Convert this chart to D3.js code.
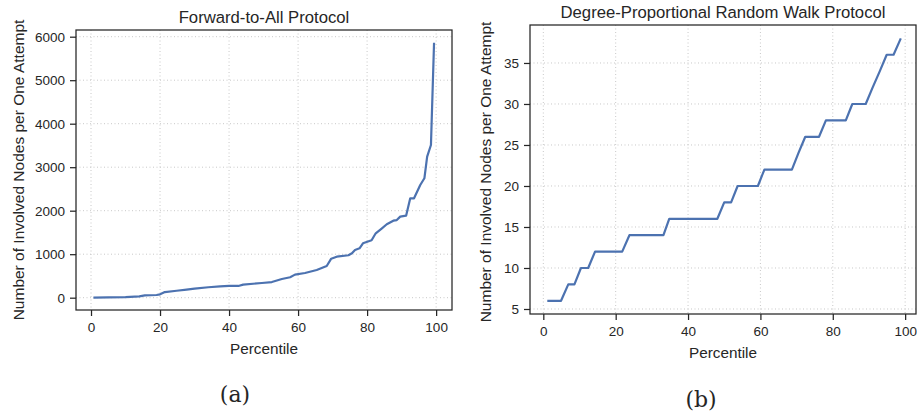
<!DOCTYPE html>
<html>
<head>
<meta charset="utf-8">
<script src="https://cdn.jsdelivr.net/npm/d3@7"></script>
<style>
body { margin: 0; background: #fff; }
svg text { font-family: "Liberation Sans", Arial, sans-serif; fill: #262626; }
</style>
</head>
<body>
<svg id="chart" width="917" height="413"></svg>
<script>
// panel (a): forward-to-all
var fwdPct = [0.7, 5, 10, 14, 15.6, 19, 20, 21.4, 24.8, 27.7, 30, 34, 37.4, 40, 42.7, 44.1, 49.5, 52.4,
	55.3, 57.7, 59.1, 62, 65.4, 68.3, 69.6, 71.2, 74.6, 75.6, 76.5, 77.8, 78.8, 81.3, 82.5, 84.3,
	85.7, 87.6, 88.6, 89.6, 91.3, 92.5, 93.6, 95.4, 96.6, 97.4, 98.5, 99.4];
var fwdVal = [0, 8, 15, 30, 55, 62, 78, 130, 160, 185, 207, 240, 262, 270, 270, 300, 338, 360,
	430, 470, 530, 568, 637, 729, 897, 943, 975, 1020, 1097, 1135, 1250, 1320, 1480, 1595,
	1688, 1770, 1785, 1863, 1885, 2285, 2285, 2590, 2745, 3241, 3510, 5860];

// panel (b): degree-proportional random walk (step vertices)
var rwPct = [1.1, 4.9, 6.9, 8.6, 10.4, 12.4, 14.3, 21.8, 23.8, 33.2, 34.8, 48.1, 50, 51.9, 53.7,
	59.3, 61.1, 68.7, 70.5, 72.4, 76.2, 78.1, 83.6, 85.4, 89.1, 91, 93, 94.9, 96.8, 98.8];
var rwVal = [6, 6, 8, 8, 10, 10, 12, 12, 14, 14, 16, 16, 18, 18, 20,
	20, 22, 22, 24, 26, 26, 28, 28, 30, 30, 32, 34, 36, 36, 38];

var xTicks = [0, 20, 40, 60, 80, 100];
var fwdTicks = [0, 1000, 2000, 3000, 4000, 5000, 6000];
var rwTicks = [5, 10, 15, 20, 25, 30, 35];

var svg = d3.select("#chart");
var lineColor = "#4c72b0", ink = "#262626";

function panel(opt){
	var g = svg.append("g");
	var x = d3.scaleLinear().domain(opt.xd).range([opt.x0, opt.x1]);
	var y = d3.scaleLinear().domain(opt.yd).range([opt.y1, opt.y0]);

	// grid
	g.selectAll(".gx").data(xTicks).enter().append("line")
		.attr("x1", d => x(d)).attr("x2", d => x(d))
		.attr("y1", opt.y0).attr("y2", opt.y1)
		.attr("stroke", "#c8c8c8").attr("stroke-width", 1).attr("stroke-dasharray", "1,2.5");
	g.selectAll(".gy").data(opt.yt).enter().append("line")
		.attr("y1", d => y(d)).attr("y2", d => y(d))
		.attr("x1", opt.x0).attr("x2", opt.x1)
		.attr("stroke", "#c8c8c8").attr("stroke-width", 1).attr("stroke-dasharray", "1,2.5");

	var line = d3.line().x(d => x(d[0])).y(d => y(d[1]));
	g.append("path")
		.datum(d3.zip(opt.px, opt.py))
		.attr("d", line)
		.attr("fill", "none")
		.attr("stroke", lineColor)
		.attr("stroke-width", 2.2)
		.attr("stroke-linejoin", "round");

	// axes
	var xa = g.append("g").attr("transform", "translate(0," + opt.y1 + ")")
		.call(d3.axisBottom(x).tickValues(xTicks).tickSize(6).tickPadding(6).tickFormat(d3.format("d")));
	var ya = g.append("g").attr("transform", "translate(" + opt.x0 + ",0)")
		.call(d3.axisLeft(y).tickValues(opt.yt).tickSize(6).tickPadding(5).tickFormat(d3.format("d")));
	[xa, ya].forEach(function(a){
		a.select(".domain").remove();
		a.selectAll("line").attr("stroke", ink).attr("stroke-width", 1.25);
		a.selectAll("text").attr("font-size", "13.5px").attr("fill", ink)
			.style("font-family", "Liberation Sans, Arial, sans-serif");
	});

	g.append("rect")
		.attr("x", opt.x0).attr("y", opt.y0)
		.attr("width", opt.x1 - opt.x0).attr("height", opt.y1 - opt.y0)
		.attr("fill", "none").attr("stroke", ink).attr("stroke-width", 1.25);

	g.append("text")
		.attr("x", (opt.x0 + opt.x1) / 2).attr("y", opt.y0 - 7)
		.attr("text-anchor", "middle").attr("font-size", "16.7px")
		.text(opt.title);
	g.append("text")
		.attr("x", (opt.x0 + opt.x1) / 2).attr("y", opt.y1 + 44)
		.attr("text-anchor", "middle").attr("font-size", "15.3px")
		.text("Percentile");
	g.append("text")
		.attr("transform", "translate(" + opt.ylx + "," + opt.ylc + ")rotate(-90)")
		.attr("text-anchor", "middle").attr("font-size", "15.5px")
		.text("Number of Involved Nodes per One Attempt");
	g.append("text")
		.attr("x", opt.capx).attr("y", opt.capy)
		.attr("text-anchor", "middle").attr("font-size", "22px")
		.style("font-family", "DejaVu Serif, Liberation Serif, serif")
		.text(opt.cap);
}

panel({x0: 76, x1: 452, y0: 30, y1: 310, xd: [-4.35, 104.6], yd: [-283, 6154],
	px: fwdPct, py: fwdVal, yt: fwdTicks, title: "Forward-to-All Protocol",
	ylx: 24, ylc: 170, cap: "(a)", capx: 235, capy: 402});
panel({x0: 530, x1: 916, y0: 25, y1: 314, xd: [-3.68, 103.0], yd: [4.39, 39.63],
	px: rwPct, py: rwVal, yt: rwTicks, title: "Degree-Proportional Random Walk Protocol",
	ylx: 491, ylc: 172, cap: "(b)", capx: 701, capy: 407});
</script>
</body>
</html>
